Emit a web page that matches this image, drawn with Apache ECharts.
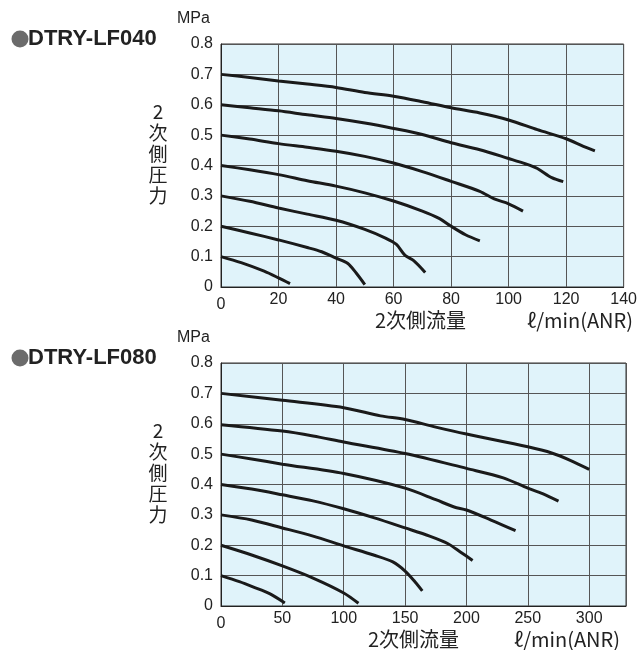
<!DOCTYPE html>
<html><head><meta charset="utf-8">
<script src="https://cdn.jsdelivr.net/npm/echarts@6/dist/echarts.min.js"></script>
<style>html,body{margin:0;padding:0;background:#fff}#c{width:640px;height:650px}</style>
</head><body><div id="c"></div>
<script>
// ---- Data: DTRY-LF040 (flow l/min, pressure MPa)
const lf040_07 = [[0,0.70],[10,0.69],[20,0.678],[30,0.668],[40,0.657],[50,0.64],[60,0.628],[70,0.61],[80,0.59],[90,0.573],[100,0.55],[110,0.518],[120,0.488],[126,0.463],[130,0.448]];
const lf040_06 = [[0,0.6],[10,0.59],[20,0.58],[30,0.567],[40,0.555],[50,0.54],[60,0.522],[70,0.502],[80,0.475],[90,0.452],[100,0.423],[106,0.405],[110,0.39],[115,0.36],[119,0.347]];
const lf040_05 = [[0,0.5],[10,0.487],[20,0.472],[30,0.46],[40,0.447],[50,0.43],[60,0.408],[70,0.38],[80,0.348],[90,0.315],[95,0.29],[100,0.274],[105,0.25]];
const lf040_04 = [[0,0.4],[10,0.386],[20,0.37],[30,0.35],[40,0.332],[50,0.31],[60,0.283],[70,0.25],[76,0.225],[80,0.2],[85,0.172],[90,0.152]];
const lf040_03 = [[0,0.3],[10,0.282],[20,0.26],[30,0.24],[40,0.22],[50,0.19],[57,0.162],[61,0.14],[64,0.104],[67,0.087],[71,0.048]];
const lf040_02 = [[0,0.2],[10,0.178],[20,0.155],[30,0.13],[35,0.116],[40,0.095],[44,0.078],[47,0.046],[50,0.008]];
const lf040_01 = [[0,0.1],[7,0.08],[15,0.052],[20,0.03],[24,0.011]];
// ---- Data: DTRY-LF080
const lf080_07 = [[0,0.7],[50,0.677],[100,0.653],[130,0.626],[150,0.614],[175,0.589],[200,0.566],[250,0.524],[270,0.503],[285,0.479],[300,0.45]];
const lf080_06 = [[0,0.597],[50,0.576],[75,0.56],[100,0.54],[150,0.502],[200,0.453],[230,0.422],[250,0.388],[262,0.37],[275,0.345]];
const lf080_05 = [[0,0.5],[25,0.484],[50,0.467],[100,0.436],[150,0.388],[175,0.35],[190,0.326],[200,0.316],[220,0.283],[240,0.248]];
const lf080_04 = [[0,0.4],[25,0.385],[50,0.366],[75,0.346],[100,0.32],[125,0.29],[150,0.257],[170,0.23],[185,0.205],[195,0.178],[205,0.15]];
const lf080_03 = [[0,0.3],[25,0.283],[50,0.257],[75,0.23],[100,0.198],[125,0.167],[140,0.145],[150,0.115],[158,0.08],[164,0.05]];
const lf080_02 = [[0,0.2],[25,0.168],[50,0.132],[75,0.092],[100,0.043],[112,0.009]];
const lf080_01 = [[0,0.1],[15,0.08],[26,0.063],[40,0.04],[52,0.01]];

const titles = ['DTRY-LF040','DTRY-LF080'];
const yAxisName = '2\n次\n側\n圧\n力';
const xAxisName = '2次側流量';
const unitName = 'ℓ/min(ANR)';
const yUnit = 'MPa';

const top040 = [lf040_07,lf040_06,lf040_05,lf040_04,lf040_03,lf040_02,lf040_01];
const bot080 = [lf080_07,lf080_06,lf080_05,lf080_04,lf080_03,lf080_02,lf080_01];

const FONT = 'Liberation Sans, Arial, sans-serif';
const CJK = '"Noto Sans CJK JP", sans-serif';
const lab = {color:'#222', fontSize:16, fontFamily:FONT};

function xAx(idx, max, interval){
  return {gridIndex:idx, type:'value', min:0, max:max, interval:interval,
    axisLine:{show:true, lineStyle:{color:'#222', width:1}}, axisTick:{show:false},
    splitLine:{show:true, lineStyle:{color:'#555', width:1}},
    axisLabel:Object.assign({margin:5, showMaxLabel:true,
      formatter:function(v){ if(v%interval!==0) return ''; return v===0 ? '{z|0}' : String(v); },
      rich:{z:{fontSize:16, fontFamily:FONT, color:'#222', padding:[5,0,0,0]}}}, lab)};
}
function yAx(idx){
  return {gridIndex:idx, type:'value', min:0, max:0.8, interval:0.1,
    axisLine:{show:true, lineStyle:{color:'#222', width:1}}, axisTick:{show:false},
    splitLine:{show:true, lineStyle:{color:'#555', width:1}},
    axisLabel:Object.assign({margin:8, formatter:function(v){return v===0?'0':v.toFixed(1);}}, lab)};
}
const series = [];
top040.forEach(d=>series.push({type:'line', xAxisIndex:0, yAxisIndex:0, data:d, smooth:0.3, symbol:'none', lineStyle:{color:'#1a1a1a', width:3}, silent:true}));
bot080.forEach(d=>series.push({type:'line', xAxisIndex:1, yAxisIndex:1, data:d, smooth:0.3, symbol:'none', lineStyle:{color:'#1a1a1a', width:3}, silent:true}));

function texts(i, offY, xNameX, unitX){
  return [
    {type:'circle', shape:{cx:20, cy:offY+39, r:8.5}, style:{fill:'#6b6b6b'}},
    {type:'text', left:28, top:offY+28, style:{text:titles[i], fill:'#222', font:'bold 22px '+FONT}},
    {type:'text', left:177, top:offY+11, style:{text:yUnit, fill:'#222', font:'16px '+FONT}},
    {type:'text', x:158, y:offY+101, style:{text:yAxisName, fill:'#222', font:'19px '+CJK, align:'center', lineHeight:21}},
    {type:'text', left:xNameX, top:offY+310, style:{text:xAxisName, fill:'#222', font:'20px '+CJK}},
    {type:'text', left:unitX, top:offY+310, style:{text:unitName, fill:'#222', font:'20px '+CJK}}
  ];
}

const chart = echarts.init(document.getElementById('c'), null, {renderer:'canvas'});
chart.setOption({
  animation:false,
  backgroundColor:'#fff',
  grid:[
    {left:221, width:405, top:44, height:243, show:true, backgroundColor:'#e0f3fa', borderColor:'#333', borderWidth:1},
    {left:221, width:405, top:363, height:243, show:true, backgroundColor:'#e0f3fa', borderColor:'#333', borderWidth:1}
  ],
  xAxis:[xAx(0,140,20), xAx(1,330,50)],
  yAxis:[yAx(0), yAx(1)],
  series:series,
  graphic:texts(0,0,375,527).concat(texts(1,319,368,514))
});
</script></body></html>
